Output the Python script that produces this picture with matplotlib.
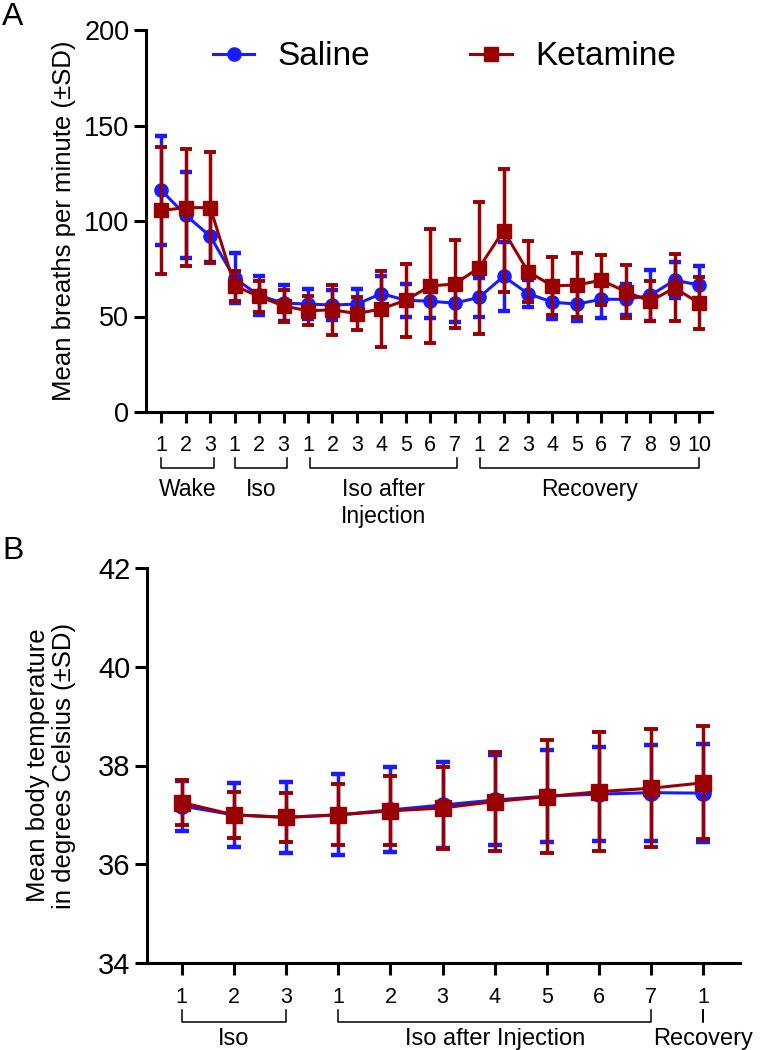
"""Breathing rate and body temperature, saline vs ketamine (two panels)."""

import matplotlib
matplotlib.use("Agg")
import matplotlib.pyplot as plt

plt.rcParams['font.family'] = ['Liberation Sans', 'DejaVu Sans']

BLUE = '#1a1aff'
RED = '#990000'

# ---- Panel A data: breaths per minute ----
wake_ticks = ['1', '2', '3']
iso_ticks = ['1', '2', '3']
iai_ticks = ['1', '2', '3', '4', '5', '6', '7']
rec_ticks = ['1', '2', '3', '4', '5', '6', '7', '8', '9', '10']

saline_breaths = [116, 103, 92, 70, 61, 57, 56.5, 56, 56.5, 62, 58.5, 58, 57,
                  60, 71, 62, 57.5, 56.5, 59, 59, 61, 69, 66.5]
saline_breaths_sd = [28.5, 22.5, 13.5, 13, 10, 9.3, 8, 8, 8, 9, 8.5, 9, 10,
                     10, 18, 7, 9, 9, 10, 8, 13.5, 9.5, 10]
ketamine_breaths = [105.5, 107, 107, 66, 60.5, 55.5, 53, 53.5, 51.5, 54, 58.5, 66, 67,
                    75.5, 95, 73.5, 66, 66.5, 69, 63, 58, 65, 57]
ketamine_breaths_sd = [33.5, 30.5, 29, 8, 8, 8.5, 7.5, 13, 8.5, 20, 19, 30, 23,
                       34.5, 32, 16, 15, 16.5, 13, 14, 10.5, 17.5, 13.5]

# ---- Panel B data: body temperature ----
temp_iso_ticks = ['1', '2', '3']
temp_iai_ticks = ['1', '2', '3', '4', '5', '6', '7']
temp_rec_ticks = ['1']

saline_temp = [37.18, 37.0, 36.95, 37.0, 37.1, 37.2, 37.3, 37.38, 37.42, 37.45, 37.44]
saline_temp_sd = [0.5, 0.65, 0.72, 0.82, 0.86, 0.87, 0.91, 0.93, 0.95, 0.97, 0.99]
ketamine_temp = [37.25, 37.0, 36.95, 37.0, 37.08, 37.14, 37.27, 37.37, 37.47, 37.54, 37.65]
ketamine_temp_sd = [0.45, 0.47, 0.5, 0.62, 0.7, 0.83, 1.0, 1.15, 1.2, 1.2, 1.14]


def style_axes(ax, ytick_size, xtick_size):
    for side in ('top', 'right'):
        ax.spines[side].set_visible(False)
    for side in ('left', 'bottom'):
        ax.spines[side].set_linewidth(2.2)
    ax.tick_params(axis='y', length=8.5, width=2.2, pad=3.5, labelsize=ytick_size)
    ax.tick_params(axis='x', length=8, width=2.2, pad=8.5, labelsize=xtick_size)


def draw_groups(ax, groups, y_top, y_bot, y_text, fontsize):
    """Brackets under the x tick labels, with a group name below each."""
    trans = ax.get_xaxis_transform()
    for x0, x1, name in groups:
        ax.plot([x0, x0, x1, x1], [y_top, y_bot, y_bot, y_top], color='black',
                lw=1.1, transform=trans, clip_on=False)
        ax.text((x0 + x1) / 2, y_text, name, transform=trans, ha='center',
                va='top', fontsize=fontsize)


def plot_pair(ax, x, s, s_sd, k, k_sd, ms_c, ms_s, capsize):
    sal = ax.errorbar(x, s, yerr=s_sd, color=BLUE, marker='o', ms=ms_c, lw=2.2,
                      elinewidth=2.5, capsize=capsize, capthick=3.2, zorder=3)
    ket = ax.errorbar(x, k, yerr=k_sd, color=RED, marker='s', ms=ms_s, lw=2.2,
                      elinewidth=2.5, capsize=capsize, capthick=2.8, zorder=4)
    for c in (sal, ket):
        for cap in c[1]:
            cap.set_clip_on(False)
    return sal, ket


fig = plt.figure(figsize=(7.6, 10.5), dpi=100)

# ---------------- Panel A ----------------
ax_a = fig.add_axes([146 / 760, 1 - 412 / 1050, 566 / 760, 382 / 1050])
labels_a = wake_ticks + iso_ticks + iai_ticks + rec_ticks
x_a = list(range(len(labels_a)))
sal_a, ket_a = plot_pair(ax_a, x_a, saline_breaths, saline_breaths_sd,
                         ketamine_breaths, ketamine_breaths_sd, 9.5, 10, 4.5)
ax_a.set_xlim(-0.63, 22.53)
ax_a.set_ylim(0, 200)
ax_a.set_yticks([0, 50, 100, 150, 200])
ax_a.set_xticks(x_a)
ax_a.set_xticklabels(labels_a)
style_axes(ax_a, 19.5, 15.5)
ax_a.set_ylabel('Mean breaths per minute (±SD)', fontsize=18.5)
ax_a.yaxis.set_label_coords(-0.123, 0.5)

n1 = len(wake_ticks)
n2 = n1 + len(iso_ticks)
n3 = n2 + len(iai_ticks)
n4 = n3 + len(rec_ticks)
draw_groups(ax_a, [(0, n1 - 1 + 0.15, 'Wake'),
                   (n1, n2 - 1 + 0.15, 'Iso'),
                   (n2 + 0.1, n3 - 1 + 0.1, 'Iso after\nInjection'),
                   (n3 + 0.05, n4 - 1, 'Recovery')],
            -0.120, -0.147, -0.173, 16.5)

ax_a.legend([sal_a[0], ket_a[0]], ['Saline', 'Ketamine'], ncol=2, frameon=False,
            fontsize=24, loc='center left', bbox_to_anchor=(0.118, 0.93),
            borderpad=0, borderaxespad=0, handlelength=1.25, handletextpad=0.7,
            columnspacing=3.0)

fig.text(2 / 760, 1 - 25 / 1050, 'A', fontsize=23, va='baseline', ha='left')

# ---------------- Panel B ----------------
ax_b = fig.add_axes([147 / 760, 1 - 963 / 1050, 593 / 760, 395 / 1050])
labels_b = temp_iso_ticks + temp_iai_ticks + temp_rec_ticks
x_b = list(range(len(labels_b)))
plot_pair(ax_b, x_b, saline_temp, saline_temp_sd, ketamine_temp, ketamine_temp_sd,
          11, 11.5, 5)
ax_b.set_xlim(-0.665, 10.70)
ax_b.set_ylim(34, 42)
ax_b.set_yticks([34, 36, 38, 40, 42])
ax_b.set_xticks(x_b)
ax_b.set_xticklabels(labels_b)
style_axes(ax_b, 21, 15.5)
ax_b.tick_params(axis='y', length=8.5)
ax_b.tick_params(axis='x', length=8.5, pad=8.5)
ax_b.set_ylabel('Mean body temperature\nin degrees Celsius (±SD)', fontsize=18.5,
                linespacing=1.1)
ax_b.yaxis.set_label_coords(-0.12, 0.5)

m1 = len(temp_iso_ticks)
m2 = m1 + len(temp_iai_ticks)
m3 = m2 + len(temp_rec_ticks)
draw_groups(ax_b, [(0, m1 - 1, 'Iso'),
                   (m1, m2 - 1, 'Iso after Injection'),
                   (m2, m3 - 1, 'Recovery')],
            -0.119, -0.149, -0.165, 17)

fig.text(2 / 760, 1 - 559 / 1050, 'B', fontsize=23, va='baseline', ha='left')

fig.savefig('out.png', dpi=100)
